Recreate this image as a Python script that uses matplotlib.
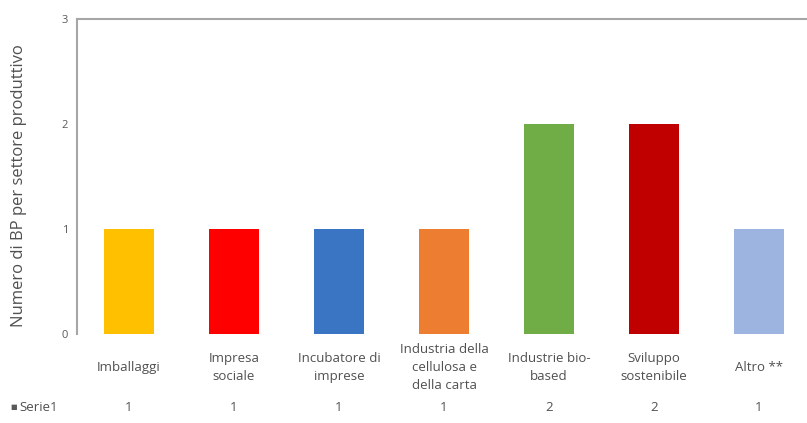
import matplotlib.pyplot as plt
import matplotlib.transforms as mtransforms

# Data
categories = ['Imballaggi', 'Impresa\nsociale', 'Incubatore di\nimprese',
              'Industria della\ncellulosa e\ndella carta', 'Industrie bio-\nbased',
              'Sviluppo\nsostenibile', 'Altro **']
values = [1, 1, 1, 1, 2, 2, 1]
bar_colors = ['#FFC000', '#FF0000', '#3A75C4', '#ED7D31', '#70AD47', '#C00000', '#9DB3E0']
series_name = 'Serie1'

TEXT_DARK = '#505050'
AXIS_GREY = '#A6A6A6'

plt.rcParams['font.family'] = ['Open Sans', 'DejaVu Sans']

fig = plt.figure(figsize=(8.07, 4.23), dpi=100)
ax = fig.add_axes([76.5 / 807, 1 - 334 / 423, 735 / 807, 315 / 423])

x = list(range(len(categories)))
ax.bar(x, values, width=0.48, color=bar_colors)

ax.set_xlim(-0.5, len(categories) - 0.5)
ax.set_ylim(0, 3)
ax.set_yticks([0, 1, 2, 3])
ax.tick_params(axis='y', length=0, pad=6, labelsize=8, labelcolor='#595959')
ax.set_xticks([])

for side in ['right', 'bottom']:
    ax.spines[side].set_visible(False)
for side in ['left', 'top']:
    ax.spines[side].set_color(AXIS_GREY)
    ax.spines[side].set_linewidth(1.5)

ax.set_ylabel('Numero di BP per settore produttivo', fontsize=12, color=TEXT_DARK)
ax.yaxis.set_label_coords(-0.067, 0.47)

# Category labels and data table row
trans = mtransforms.blended_transform_factory(ax.transData, ax.transAxes)
for xi, cat, v in zip(x, categories, values):
    ax.text(xi, -33 / 315, cat, transform=trans, ha='center', va='center',
            fontsize=9.5, color=TEXT_DARK, linespacing=1.5)
    ax.text(xi, -73 / 315, str(v), transform=trans, ha='center', va='center',
            fontsize=9.5, color=TEXT_DARK)

fig.text(10 / 807, 1 - 407 / 423, '\u25a0', fontsize=5, color='#595959', va='center', ha='left')
fig.text(19 / 807, 1 - 407 / 423, series_name, fontsize=9.5, color=TEXT_DARK, va='center', ha='left')

fig.savefig('out.png', dpi=100)
